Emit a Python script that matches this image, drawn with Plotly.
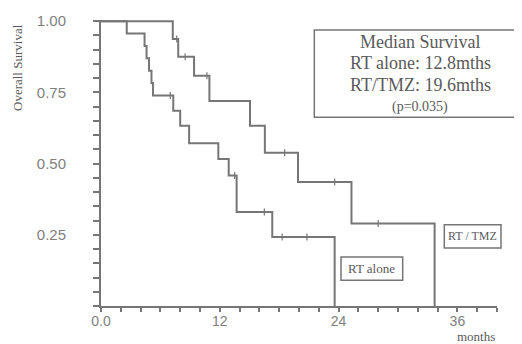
import plotly.graph_objects as go

# ---- data (months, survival) ----
rt_alone_t = [0, 2.6, 4.4, 4.6, 4.85, 5.1, 5.25, 7.3, 8.0, 8.9, 11.85, 12.9, 13.7, 17.3, 23.6]
rt_alone_s = [1.0, 0.957, 0.913, 0.870, 0.826, 0.783, 0.739, 0.685, 0.633, 0.571, 0.516, 0.458, 0.330, 0.242, 0.0]
rt_alone_cens_t = [7.0, 13.5, 16.5, 18.3, 20.8]
rt_alone_cens_s = [0.739, 0.458, 0.330, 0.242, 0.242]

rt_tmz_t = [0, 7.25, 7.8, 9.4, 10.95, 15.05, 16.55, 19.9, 25.3, 33.7]
rt_tmz_s = [1.0, 0.9375, 0.875, 0.808, 0.720, 0.633, 0.538, 0.435, 0.290, 0.0]
rt_tmz_cens_t = [7.65, 8.5, 10.7, 18.55, 23.6, 28.0]
rt_tmz_cens_s = [0.9375, 0.875, 0.808, 0.538, 0.435, 0.290]

x_tickvals = list(range(0, 41, 2))
x_ticktext = ["0.0" if v == 0 else (str(v) if v in (12, 24, 36) else "") for v in x_tickvals]
y_tickvals = [round(i * 0.05, 2) for i in range(0, 21)]
y_labels = {0.25: "0.25", 0.5: "0.50", 0.75: "0.75", 1.0: "1.00"}
y_ticktext = [y_labels.get(v, "") for v in y_tickvals]

legend_lines = ["Median Survival", "RT alone: 12.8mths", "RT/TMZ: 19.6mths"]
p_text = "(p=0.035)"

LINE = "#767676"
TEXT = "#5a5a5a"
SERIF = "Liberation Serif, Times New Roman, serif"
SANS = "Liberation Sans, Arial, sans-serif"

fig = go.Figure()
for t, s in [(rt_alone_t, rt_alone_s), (rt_tmz_t, rt_tmz_s)]:
    fig.add_trace(go.Scatter(x=t, y=s, mode="lines", line=dict(shape="hv", color=LINE, width=2),
                             showlegend=False, hoverinfo="skip"))
for t, s in [(rt_alone_cens_t, rt_alone_cens_s), (rt_tmz_cens_t, rt_tmz_cens_s)]:
    fig.add_trace(go.Scatter(x=t, y=s, mode="markers",
                             marker=dict(symbol="line-ns", size=5, line=dict(color=LINE, width=1.2)),
                             showlegend=False, hoverinfo="skip"))

# page has an 8px body margin: shift the figure so the plot area lands where the reference has it
OFF = 8
W, H = 522 - OFF, 344 - OFF
PL, PR, PT, PB = 101, 497, 20, 306   # plot area in window pixels
L, R, T, B = PL - OFF, W + OFF - PR, PT - OFF, H + OFF - PB
pw, ph = PR - PL, PB - PT

def px(x):
    return (x - PL) / pw

def py(y):
    return (PB - y) / ph

shapes = [
    dict(type="rect", xref="paper", yref="paper", x0=px(314.3), x1=px(520.5), y0=py(117.3), y1=py(30),
         line=dict(color=LINE, width=1.5)),
    dict(type="rect", xref="paper", yref="paper", x0=px(444.3), x1=px(501), y0=py(248), y1=py(224.7),
         line=dict(color=LINE, width=1.5)),
    dict(type="rect", xref="paper", yref="paper", x0=px(341), x1=px(402.7), y0=py(280.3), y1=py(257),
         line=dict(color=LINE, width=1.5)),
]

annotations = []
for txt, yy in zip(legend_lines, [41.7, 63, 85]):
    annotations.append(dict(text=txt, xref="paper", yref="paper", x=px(420), y=py(yy), showarrow=False,
                            xanchor="center", yanchor="middle", font=dict(family=SERIF, size=18, color=TEXT)))
annotations.append(dict(text=p_text, xref="paper", yref="paper", x=px(419.5), y=py(107), showarrow=False,
                        xanchor="center", yanchor="middle", font=dict(family=SERIF, size=14, color=TEXT)))
annotations.append(dict(text="RT / TMZ", xref="paper", yref="paper", x=px(472.7), y=py(236.3), showarrow=False,
                        xanchor="center", yanchor="middle", font=dict(family=SERIF, size=12, color=TEXT)))
annotations.append(dict(text="RT alone", xref="paper", yref="paper", x=px(371.9), y=py(268.7), showarrow=False,
                        xanchor="center", yanchor="middle", font=dict(family=SERIF, size=13, color=TEXT)))
annotations.append(dict(text="Overall Survival", xref="paper", yref="paper", x=px(18), y=py(68), showarrow=False,
                        textangle=-90, xanchor="center", yanchor="middle",
                        font=dict(family=SERIF, size=13, color=TEXT)))
annotations.append(dict(text="months", xref="paper", yref="paper", x=px(476), y=py(336.5), showarrow=False,
                        xanchor="center", yanchor="middle", font=dict(family=SERIF, size=13, color=TEXT)))

fig.update_layout(
    width=W, height=H, margin=dict(l=L, r=R, t=T, b=B),
    paper_bgcolor="white", plot_bgcolor="white",
    shapes=shapes, annotations=annotations,
    xaxis=dict(range=[0, 40], tickvals=x_tickvals, ticktext=x_ticktext, showgrid=False, zeroline=False,
               automargin=False,
               showline=True, linecolor=LINE, linewidth=2, ticks="outside", ticklen=4, tickwidth=1.5,
               tickcolor=LINE, ticklabelstandoff=-3,
               tickfont=dict(family=SANS, size=14, color="#808080")),
    yaxis=dict(range=[0, 1.004], tickvals=y_tickvals, ticktext=y_ticktext, showgrid=False, zeroline=False,
               automargin=False,
               showline=True, linecolor=LINE, linewidth=2, ticks="outside", ticklen=6, tickwidth=1.5,
               tickcolor=LINE, ticklabelstandoff=24,
               tickfont=dict(family=SANS, size=15, color="#808080")),
)

fig.write_html("out.html")
